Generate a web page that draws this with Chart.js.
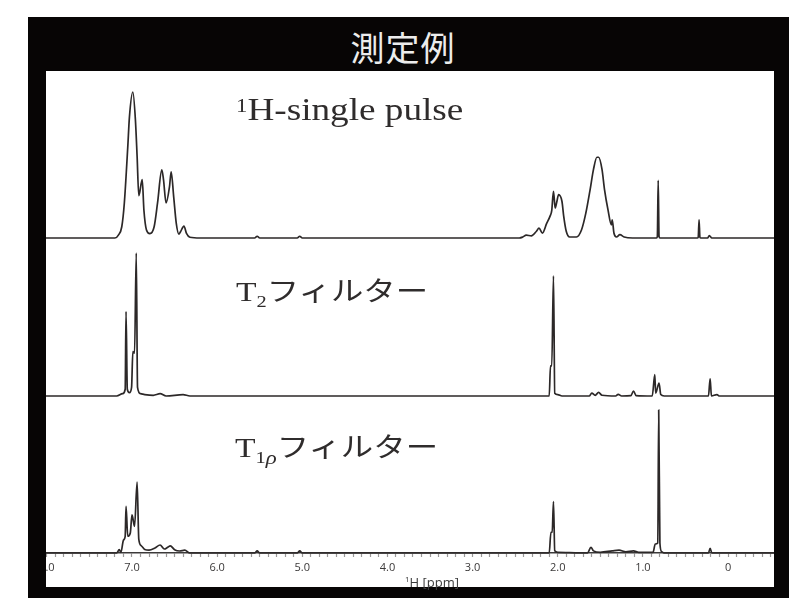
<!DOCTYPE html>
<html>
<head>
<meta charset="utf-8">
<script src="https://cdn.jsdelivr.net/npm/chart.js@4/dist/chart.umd.min.js"></script>
<style>
  html, body { margin: 0; padding: 0; }
  body { width: 804px; height: 599px; background: #ffffff; position: relative; overflow: hidden; }
  #frame { position: absolute; left: 28px; top: 17px; width: 761px; height: 581px; background: #070505; }
  #title { position: absolute; left: 0; width: 806px; top: 29px; line-height: 36px; text-align: center;
           font-family: "Noto Sans CJK JP", sans-serif; font-size: 34px; letter-spacing: 1px; color: #ececec; }
  #panel { position: absolute; left: 46px; top: 71px; width: 728px; height: 516px; background: #ffffff; }
  #panel canvas { position: absolute; left: 0; top: 0; }
  .lbl { position: absolute; white-space: nowrap; color: #2f2c2c; line-height: 1;
         font-family: "Liberation Serif", "Times New Roman", serif; transform: scaleX(1.2); transform-origin: 0 0; }
  .kana { font-family: "Noto Sans CJK JP", sans-serif; }
  #xtitle { position: absolute; left: 405px; top: 572px; font-family: "Open Sans", sans-serif; font-size: 13px;
            color: #3a3a3a; white-space: nowrap; line-height: 14px; }
</style>
</head>
<body>
<div id="frame"></div>
<div id="title">測定例</div>
<div id="panel"><canvas id="nmr" width="728" height="516"></canvas></div>

<div class="lbl" style="left:236px; top:94px; font-size:31px;"><span style="font-size:19px; vertical-align:8px;">1</span>H-single pulse</div>
<div class="lbl" style="left:236px; top:276px; font-size:28px;">T<span style="font-size:17px; vertical-align:-6px;">2</span><span class="kana" style="font-size:27px;">フィルター</span></div>
<div class="lbl" style="left:235px; top:432px; font-size:28px;">T<span style="font-size:17px; vertical-align:-6px;">1</span><span style="font-size:19px; font-style:italic; vertical-align:-7px;">ρ</span><span class="kana" style="font-size:27px;">フィルター</span></div>
<div id="xtitle"><span style="font-size:8px; vertical-align:5px;">1</span>H [ppm]</div>

<script>
// 1H spectra of the same sample: chemical shift (ppm) and relative intensity (tallest peak = 100)
const singlePulsePpm = [8.01, 7.20, 7.16, 7.12, 7.09, 7.05, 7.03, 6.99, 6.96, 6.94, 6.92, 6.88, 6.86, 6.83, 6.79,
  6.74, 6.70, 6.65, 6.63, 6.60, 6.56, 6.54, 6.51, 6.48, 6.45, 6.43, 6.39, 6.36, 6.32, 6.20,
  5.56, 5.53, 5.50, 5.06, 5.03, 5.00,
  2.45, 2.41, 2.37, 2.31, 2.25, 2.22, 2.18, 2.13, 2.09, 2.07, 2.05, 2.03, 2.01, 1.99, 1.95, 1.93, 1.90, 1.86,
  1.78, 1.72, 1.67, 1.62, 1.58, 1.54, 1.52, 1.48, 1.45, 1.41, 1.37, 1.36, 1.34, 1.31, 1.27, 1.22, 1.12,
  0.84, 0.83, 0.82, 0.81, 0.80, 0.36, 0.35, 0.34, 0.33, 0.32, 0.24, 0.22, 0.19, -0.54];
const singlePulseInt = [0, 0, 2, 7.7, 24, 62, 83, 100, 81, 56, 29, 40, 19, 5.5, 3,
  7.7, 24, 46.6, 40, 24, 35, 45.4, 28, 10, 2.7, 4.3, 8.2, 3.2, 0.5, 0,
  0, 1.2, 0, 0, 1.2, 0,
  0, 0.7, 2, 1.4, 4.6, 6.8, 3.4, 10, 15, 19, 32, 20.5, 25, 29.7, 25, 15, 4.6, 0.7,
  0.7, 5.7, 17, 33, 47, 55.3, 55.3, 47, 33, 19.4, 9, 12.5, 3.4, 0.7, 2.3, 0.7, 0,
  0, 1, 39.5, 1, 0, 0, 0.5, 12.5, 0.5, 0, 0, 1.6, 0, 0];

const t2Ppm = [8.01, 7.18, 7.11, 7.08, 7.07, 7.055, 7.03, 7.005, 6.99, 6.97, 6.95, 6.935, 6.90, 6.85, 6.75,
  6.67, 6.60, 6.40, 6.32,
  2.10, 2.085, 2.07, 2.05, 2.035, 2.00, 1.95, 1.63, 1.60, 1.56, 1.52, 1.48, 1.32, 1.29, 1.25, 1.14, 1.11, 1.08,
  0.89, 0.86, 0.85, 0.81, 0.79, 0.75, 0.23, 0.21, 0.195, 0.13, 0.10, -0.54];
const t2Int = [0, 0, 1.6, 4.7, 59, 4.7, 2.3, 6, 31, 30, 100, 6, 1.6, 1, 0.5,
  1.6, 0, 1, 0,
  0, 21, 21, 84, 2, 1, 0, 0, 2, 0.5, 2.5, 0.5, 0, 1.2, 0, 0.3, 3.5, 0.3,
  0, 15, 2, 9, 1, 0, 0, 12, 0, 1, 0, 0];

const t1rhoPpm = [8.01, 7.18, 7.15, 7.13, 7.10, 7.08, 7.07, 7.05, 7.02, 7.00, 6.97, 6.94, 6.92, 6.89, 6.85,
  6.80, 6.73, 6.67, 6.62, 6.58, 6.55, 6.50, 6.44, 6.38, 6.32, 5.56, 5.53, 5.50, 5.06, 5.03, 5.00,
  2.10, 2.08, 2.065, 2.05, 2.035, 2.00, 1.65, 1.61, 1.58, 1.50, 1.36, 1.28, 1.20, 1.11, 1.05,
  0.88, 0.855, 0.825, 0.814, 0.80, 0.78, 0.75, 0.23, 0.21, 0.19, -0.54];
const t1rhoInt = [0, 0, 2.3, 0.5, 9, 11.7, 32.6, 11.7, 14, 26.6, 18.6, 49.6, 9.5, 5, 2.5,
  2, 3.5, 5.6, 2.8, 4, 5, 2.3, 1.4, 2, 0, 0, 1.5, 0, 0, 1.5, 0,
  0, 14.5, 14.5, 36, 1.5, 0.5, 0, 4, 1.5, 0.5, 1.5, 2, 0.8, 1.5, 0.5,
  0.5, 6.3, 7, 100, 7, 1, 0, 0, 3.3, 0, 0];

// labelled shift values on the ppm axis
const majorTicks = [8, 7, 6, 5, 4, 3, 2, 1, 0];
const majorTickLabels = ['8.0', '7.0', '6.0', '5.0', '4.0', '3.0', '2.0', '1.0', '0'];

const toPoints = (xs, ys) => xs.map((x, i) => ({ x: x, y: ys[i] }));

const lineStyle = {
  borderColor: '#2c2828',
  borderWidth: 1.7,
  pointRadius: 0,
  cubicInterpolationMode: 'monotone',
  clip: false,
  fill: false
};

new Chart(document.getElementById('nmr'), {
  type: 'line',
  data: {
    datasets: [
      Object.assign({ label: '1H-single pulse', data: toPoints(singlePulsePpm, singlePulseInt), yAxisID: 'y1' }, lineStyle),
      Object.assign({ label: 'T2 filter', data: toPoints(t2Ppm, t2Int), yAxisID: 'y2' }, lineStyle),
      Object.assign({ label: 'T1rho filter', data: toPoints(t1rhoPpm, t1rhoInt), yAxisID: 'y3' }, lineStyle)
    ]
  },
  options: {
    responsive: false,
    devicePixelRatio: 1,
    animation: false,
    events: [],
    layout: { padding: 0 },
    plugins: { legend: { display: false }, tooltip: { enabled: false } },
    scales: {
      x: {
        type: 'linear',
        position: 'bottom',
        reverse: true,
        min: -0.54,
        max: 8.01,
        afterBuildTicks: (scale) => {
          // a tick mark every 0.1 ppm
          const ticks = [];
          for (let k = 80; k >= -5; k--) ticks.push({ value: k / 10 });
          scale.ticks = ticks;
        },
        afterFit: (scale) => {
          scale.height = 34;
          scale.paddingLeft = 0;
          scale.paddingRight = 0;
        },
        border: { display: true, color: '#3c3a3a', width: 1.6 },
        grid: { drawOnChartArea: false, drawTicks: true, tickLength: 4, tickColor: '#9a9898', tickWidth: 1.2 },
        ticks: {
          autoSkip: false,
          maxRotation: 0,
          minRotation: 0,
          padding: 4,
          color: '#3a3838',
          font: { family: 'Open Sans', size: 11 },
          callback: (value) => {
            const i = majorTicks.findIndex(t => Math.abs(t - value) < 1e-6);
            return i >= 0 ? majorTickLabels[i] : '';
          }
        }
      },
      y1: { type: 'linear', display: false, position: 'left', stack: 'nmr', stackWeight: 167, weight: 3, min: 0, max: 114.4 },
      y2: { type: 'linear', display: false, position: 'left', stack: 'nmr', stackWeight: 158, weight: 2, min: 0, max: 110.5 },
      y3: { type: 'linear', display: false, position: 'left', stack: 'nmr', stackWeight: 157, weight: 1, min: 0, max: 109.8 }
    }
  }
});
</script>
</body>
</html>
